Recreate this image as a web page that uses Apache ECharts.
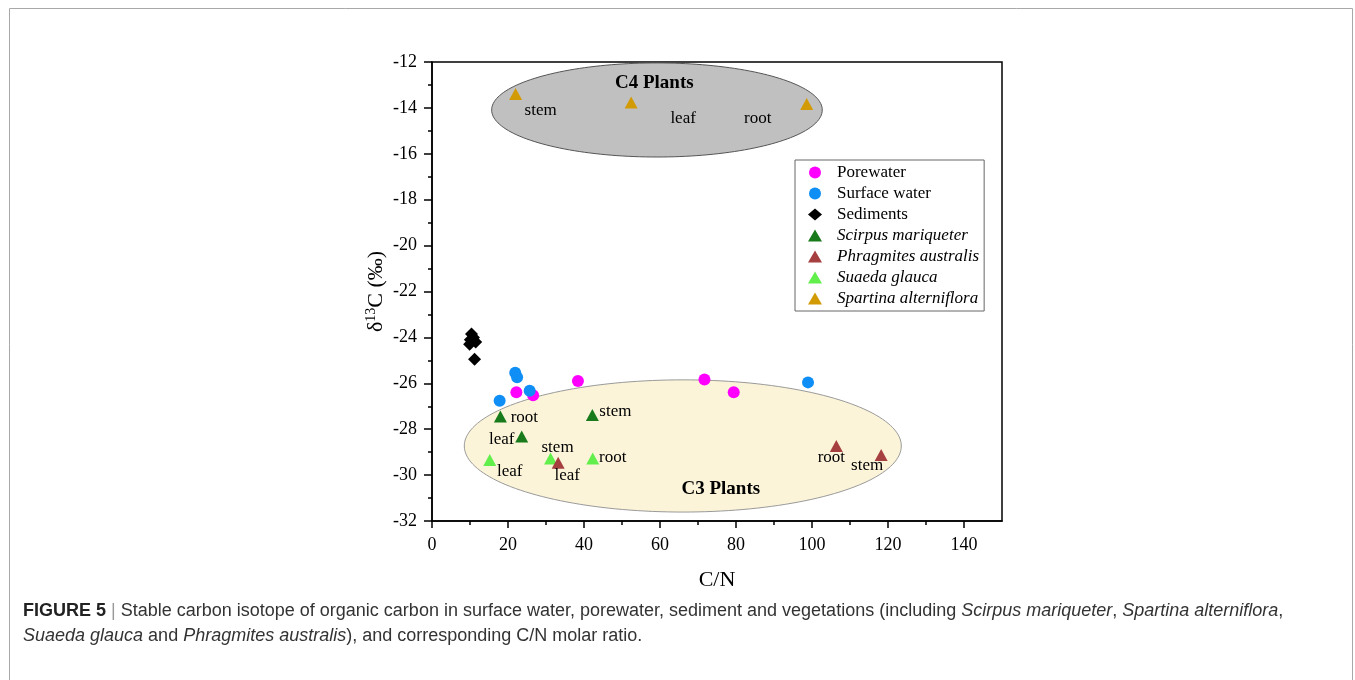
<!DOCTYPE html>
<html>
<head>
<meta charset="utf-8">
<title>Figure 5</title>
<script src="https://cdn.jsdelivr.net/npm/echarts@6/dist/echarts.min.js"></script>
<style>
html, body { margin: 0; padding: 0; background: #fff; }
#chart { width: 1355px; height: 680px; }
</style>
</head>
<body>
<div id="chart"></div>
<script>
// C/N molar ratio (x) and d13C in permil (y)
var porewaterCN = [22.2, 26.6, 38.4, 71.7, 79.4]
var porewaterD13C = [-26.39, -26.52, -25.9, -25.83, -26.39]

var surfaceCN = [17.8, 21.9, 22.4, 25.7, 98.95]
var surfaceD13C = [-26.76, -25.54, -25.74, -26.32, -25.96]

var sedimentCN = [10.4, 10.1, 9.9, 11.5, 10.9, 11.2]
var sedimentD13C = [-23.85, -24.1, -24.3, -24.2, -24.0, -24.95]

var scirpusCN = [18.0, 23.6, 42.2]
var scirpusD13C = [-27.45, -28.32, -27.38]
var scirpusParts = ['root', 'leaf', 'stem']

var phragmitesCN = [33.2, 106.4, 118.2]
var phragmitesD13C = [-29.46, -28.73, -29.12]
var phragmitesParts = ['leaf', 'root', 'stem']

var suaedaCN = [15.2, 31.2, 42.3]
var suaedaD13C = [-29.34, -29.28, -29.28]
var suaedaParts = ['leaf', 'stem', 'root']

var spartinaCN = [22.0, 52.4, 98.6]
var spartinaD13C = [-13.39, -13.77, -13.83]
var spartinaParts = ['stem', 'leaf', 'root']

// shaded zones (ellipses) in data units
var zoneNames = ['C4 Plants', 'C3 Plants']
var zoneCenterCN = [59.2, 66.0]
var zoneCenterD13C = [-14.09, -28.73]
var zoneHalfCN = [43.5, 57.5]
var zoneHalfD13C = [2.05, 2.88]
var zoneTitleCN = [58.5, 76.0]
var zoneTitleD13C = [-12.93, -30.6]

// axis ticks
var xMajorTicks = [0, 20, 40, 60, 80, 100, 120, 140]
var xMinorTicks = [10, 30, 50, 70, 90, 110, 130]

var serif = '"Liberation Serif", "Times New Roman", serif'
var sans = '"Liberation Sans", Arial, sans-serif'

// label offsets in px from the marker centre
var scirpusOffsets = [[24, 1], [-20, 3], [23, -3]]
var phragmitesOffsets = [[9, 13], [-5, 12], [-14, 11]]
var suaedaOffsets = [[20, 12], [7, -11], [20, -1]]
var spartinaOffsets = [[25, 17], [52, 16], [-49, 15]]

var zoneFill = ['#c0c0c0', '#fbf4d9']
var zoneStroke = ['#555555', '#9a9a9a']

function pointSeries (name, cn, d13c, symbol, size, color, parts, offsets, z) {
  var data = cn.map(function (x, i) {
    var item = { value: [x, d13c[i]], name: parts ? parts[i] : '' }
    if (parts) {
      item.label = { show: true, offset: offsets[i] }
    }
    return item
  })
  return {
    name: name,
    type: 'scatter',
    symbol: symbol,
    symbolSize: size,
    z: z || 2,
    itemStyle: { color: color, opacity: 1 },
    label: {
      show: false,
      position: 'inside',
      formatter: '{b}',
      color: '#000',
      fontFamily: serif,
      fontSize: 17
    },
    emphasis: { disabled: true },
    data: data
  }
}

var chart = echarts.init(document.getElementById('chart'))

var axisLineStyle = { color: '#000', width: 1.5 }

chart.setOption({
  backgroundColor: '#fff',
  animation: false,
  grid: {
    left: 432,
    top: 62,
    right: 353,
    bottom: 159,
    show: true,
    borderColor: '#000',
    borderWidth: 1.5
  },
  legend: {
    orient: 'vertical',
    left: 795,
    top: 160,
    padding: [4, 5, 4, 13],
    itemGap: 4,
    itemWidth: 14,
    itemHeight: 12,
    borderColor: '#666',
    borderWidth: 1,
    selectedMode: false,
    textStyle: {
      fontFamily: serif,
      fontSize: 17,
      lineHeight: 17,
      color: '#000',
      padding: [0, 0, 0, 10]
    },
    data: [
      { name: 'Porewater' },
      { name: 'Surface water' },
      { name: 'Sediments' },
      { name: 'Scirpus mariqueter', textStyle: { fontStyle: 'italic' } },
      { name: 'Phragmites australis', textStyle: { fontStyle: 'italic' } },
      { name: 'Suaeda glauca', textStyle: { fontStyle: 'italic' } },
      { name: 'Spartina alterniflora', textStyle: { fontStyle: 'italic' } }
    ]
  },
  xAxis: [
    {
      type: 'value',
      min: 0,
      max: 150,
      position: 'bottom',
      name: 'C/N',
      nameLocation: 'middle',
      nameGap: 48,
      nameTextStyle: { fontFamily: serif, fontSize: 22, color: '#000' },
      axisLine: { show: true, onZero: false, lineStyle: axisLineStyle },
      axisTick: { show: true, length: 7, customValues: xMajorTicks, lineStyle: axisLineStyle },
      axisLabel: { customValues: xMajorTicks, margin: 15, fontFamily: serif, fontSize: 18, color: '#000' },
      splitLine: { show: false }
    },
    {
      type: 'value',
      min: 0,
      max: 150,
      position: 'bottom',
      axisLine: { show: false },
      axisTick: { show: true, length: 4, customValues: xMinorTicks, lineStyle: axisLineStyle },
      axisLabel: { show: false },
      splitLine: { show: false }
    }
  ],
  yAxis: {
    type: 'value',
    min: -32,
    max: -12,
    interval: 2,
    name: '{d|δ}{s|13}{d|C (‰)}',
    nameLocation: 'middle',
    nameRotate: 90,
    nameGap: 44,
    nameTextStyle: {
      color: '#000',
      rich: {
        d: { fontFamily: serif, fontSize: 22, color: '#000', lineHeight: 24 },
        s: { fontFamily: serif, fontSize: 14, color: '#000', verticalAlign: 'top', lineHeight: 24 }
      }
    },
    axisLine: { show: true, onZero: false, lineStyle: axisLineStyle },
    axisTick: { show: true, length: 8, lineStyle: axisLineStyle },
    minorTick: { show: true, splitNumber: 2, length: 4, lineStyle: axisLineStyle },
    axisLabel: { margin: 15, fontFamily: serif, fontSize: 18, color: '#000' },
    splitLine: { show: false },
    minorSplitLine: { show: false }
  },
  graphic: [
    {
      type: 'rect',
      silent: true,
      z: -10,
      shape: { x: 9.5, y: 8.5, width: 1343, height: 700 },
      style: { fill: 'none', stroke: '#a8a8a8', lineWidth: 1 }
    },
    {
      type: 'text',
      silent: true,
      x: 23,
      y: 611,
      style: {
        text: '{b|FIGURE 5} {bar||} Stable carbon isotope of organic carbon in surface water, porewater, sediment and vegetations (including {i|Scirpus mariqueter}, {i|Spartina alterniflora},',
        font: '18px ' + sans,
        fill: '#333',
        textVerticalAlign: 'middle',
        verticalAlign: 'middle',
        rich: {
          b: { fontFamily: sans, fontSize: 18, fontWeight: 'bold', fill: '#222' },
          bar: { fontFamily: sans, fontSize: 18, fill: '#999' },
          i: { fontFamily: sans, fontSize: 18, fontStyle: 'italic', fill: '#333' }
        }
      }
    },
    {
      type: 'text',
      silent: true,
      x: 23,
      y: 636,
      style: {
        text: '{i|Suaeda glauca} and {i|Phragmites australis}), and corresponding C/N molar ratio.',
        font: '18px ' + sans,
        fill: '#333',
        textVerticalAlign: 'middle',
        verticalAlign: 'middle',
        rich: {
          i: { fontFamily: sans, fontSize: 18, fontStyle: 'italic', fill: '#333' }
        }
      }
    }
  ],
  series: [
    {
      type: 'custom',
      coordinateSystem: 'cartesian2d',
      silent: true,
      z: 1,
      clip: false,
      encode: { x: 0, y: 1 },
      data: zoneNames.map(function (n, i) {
        return [zoneCenterCN[i], zoneCenterD13C[i], zoneHalfCN[i], zoneHalfD13C[i], zoneTitleCN[i], zoneTitleD13C[i], i]
      }),
      renderItem: function (params, api) {
        var c = api.coord([api.value(0), api.value(1)])
        var s = api.size([api.value(2), api.value(3)])
        var t = api.coord([api.value(4), api.value(5)])
        var i = api.value(6)
        var pts = []
        for (var k = 0; k < 180; k++) {
          var a = k / 180 * Math.PI * 2
          pts.push([c[0] + s[0] * Math.cos(a), c[1] + s[1] * Math.sin(a)])
        }
        return {
          type: 'group',
          children: [
            {
              type: 'polygon',
              shape: { points: pts },
              style: { fill: zoneFill[i], stroke: zoneStroke[i], lineWidth: 1 }
            },
            {
              type: 'text',
              x: t[0],
              y: t[1],
              style: {
                text: zoneNames[i],
                font: 'bold 19px ' + serif,
                fill: '#000',
                textAlign: 'center',
                textVerticalAlign: 'middle',
                align: 'center',
                verticalAlign: 'middle'
              }
            }
          ]
        }
      }
    },
    pointSeries('Porewater', porewaterCN, porewaterD13C, 'circle', 12, '#ff00ff'),
    pointSeries('Surface water', surfaceCN, surfaceD13C, 'circle', 12, '#0f8ff5'),
    pointSeries('Sediments', sedimentCN, sedimentD13C, 'diamond', 13, '#000000'),
    pointSeries('Scirpus mariqueter', scirpusCN, scirpusD13C, 'triangle', [13, 12], '#187a1a', scirpusParts, scirpusOffsets),
    pointSeries('Phragmites australis', phragmitesCN, phragmitesD13C, 'triangle', [13, 12], '#a63f3f', phragmitesParts, phragmitesOffsets, 4),
    pointSeries('Suaeda glauca', suaedaCN, suaedaD13C, 'triangle', [13, 12], '#62ef4c', suaedaParts, suaedaOffsets, 3),
    pointSeries('Spartina alterniflora', spartinaCN, spartinaD13C, 'triangle', [13, 12], '#d29a05', spartinaParts, spartinaOffsets)
  ]
})
</script>
</body>
</html>
